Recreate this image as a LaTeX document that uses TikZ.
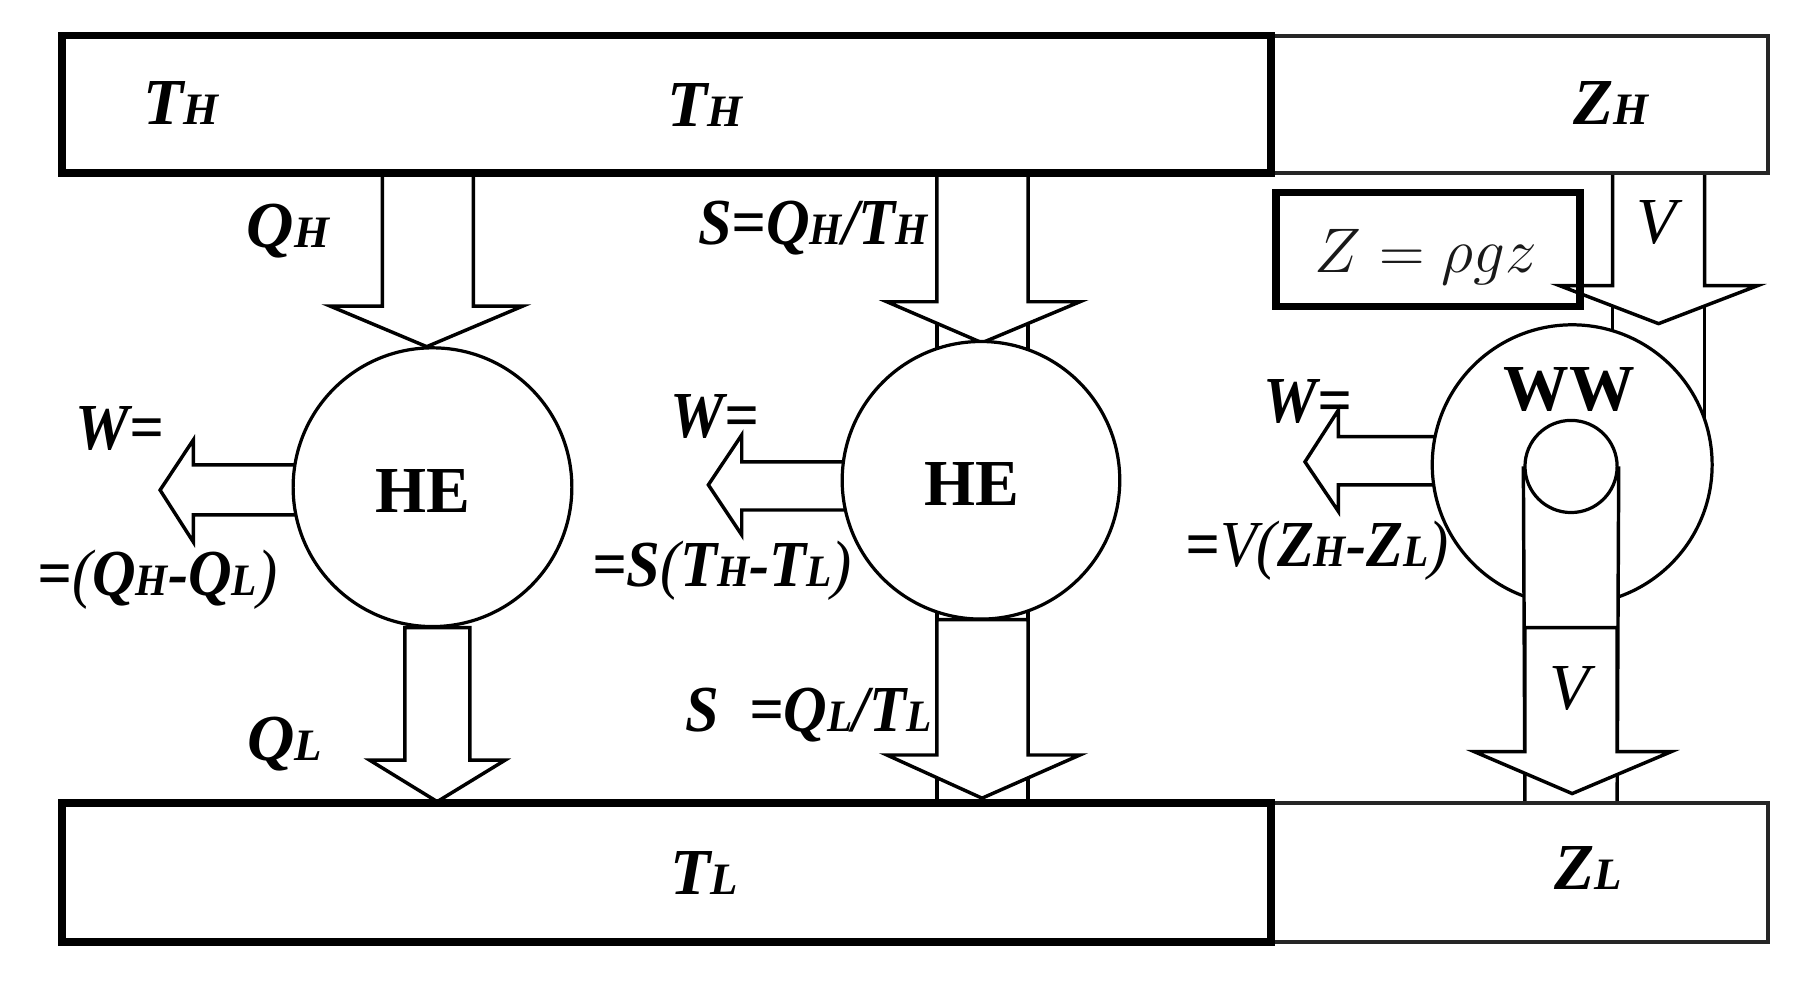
\documentclass[tikz,border=0pt]{standalone}
\usepackage{graphicx}
\usepackage{fontspec}
\setmainfont{Liberation Serif}
\newfontfamily\condfont{Liberation Serif}[FakeStretch=0.92]
\usetikzlibrary{calc}
\newcommand{\sbs}[1]{{\fontsize{19.5pt}{20pt}\selectfont #1}}
\newcommand{\rp}[1]{{\mdseries #1}}
\begin{document}
\begin{tikzpicture}[x=0.5pt,y=-0.5pt,
  thinline/.style={line width=1.5pt},
  thickbox/.style={draw, line width=3.3pt},
  thinbox/.style={draw, line width=1.6pt, black!85},
  barrow/.style={draw, fill=white, line width=1.5pt, line join=miter},
  lbl/.style={inner sep=0pt, font=\fontsize{28.5pt}{30pt}\selectfont\bfseries\itshape},
  clbl/.style={inner sep=0pt, font=\condfont\fontsize{28.5pt}{30pt}\selectfont\bfseries\itshape},
  vlbl/.style={inner sep=0pt, font=\fontsize{28.5pt}{30pt}\selectfont\mdseries\itshape},
  eng/.style={inner sep=0pt, font=\fontsize{28.5pt}{30pt}\selectfont\bfseries},
  engine/.style={circle, draw, fill=white, line width=1.4pt, inner sep=0pt},
]
\useasboundingbox (0,0) rectangle (1568,855);

% ---------- column 1 ----------
\draw[barrow] (332,150) -- (332,265.7) -- (286.5,265.7) -- (370.5,301) -- (454,265.7) -- (411,265.7) -- (411,150);
\draw[barrow] (262,403.7) -- (167.8,403.7) -- (167.8,382) -- (139,425.5) -- (167.8,470.5) -- (167.8,447) -- (262,447);
\draw[barrow] (351.6,545) -- (351.6,660) -- (321,660) -- (379.6,696) -- (438.5,660) -- (408,660) -- (408,545) -- cycle;
\node[engine, minimum size=121pt] (he1) at (375.5,423) {};

% ---------- column 2 ----------
\draw[thinline] (813.4,150) -- (813.4,330) (892.6,150) -- (892.6,330);
\draw[barrow] (813.4,150) -- (813.4,262) -- (770,262) -- (852.6,297.6) -- (937.6,262) -- (892.6,262) -- (892.6,150);
\draw[barrow] (740,401) -- (644,401) -- (644,377.6) -- (615,421) -- (644,464.5) -- (644,442.8) -- (740,442.8);
\draw[thinline] (813.4,525) -- (813.4,697) (892.6,525) -- (892.6,697);
\node[engine, minimum size=120.5pt] (he2) at (851.7,417) {};
\draw[barrow] (813.4,538) -- (813.4,655.5) -- (770,655.5) -- (852.6,693) -- (937.6,655.5) -- (892.6,655.5) -- (892.6,538) -- cycle;

% ---------- column 3 ----------
\draw[thinline] (1400,150) -- (1400,320) (1480,150) -- (1480,390);
\draw[barrow] (1400,150) -- (1400,248) -- (1354,248) -- (1440,281) -- (1526,248) -- (1480,248) -- (1480,150);
\draw[barrow] (1252,379) -- (1162,379) -- (1162,356) -- (1133,401) -- (1162,444) -- (1162,421) -- (1252,421);
\node[engine, minimum size=121.5pt] (ww) at (1365,403.5) {};
\fill[white] (1324,405) rectangle (1404,545);
\node[circle, draw, line width=1.4pt, minimum size=40pt, inner sep=0pt] (hub) at (1364,405) {};
\draw[thinline] (hub.west) -- (1324,697) (hub.east) -- (1404,697);
\draw[barrow] (1324,545) -- (1324,652.6) -- (1280,652.6) -- (1365,689) -- (1451,652.6) -- (1404,652.6) -- (1404,545) -- cycle;

% ---------- reservoirs ----------
\draw[thinbox] (1103.5,31) rectangle (1535,150);
\draw[thickbox] (54,31) rectangle (1103.5,150);
\draw[thinbox] (1103.5,697) rectangle (1535,818);
\draw[thickbox] (54,697) rectangle (1103.5,818);

% ---------- Z box ----------
\node[draw, line width=3.3pt, minimum width=132pt, minimum height=49.5pt, inner sep=0pt] (zbox) at (1240,216.5) {};
\node[inner sep=0pt, anchor=base, text=black!90, font=\fontsize{24.88pt}{27pt}\selectfont] (zeq) at (1238,237) {\scalebox{1.1}{$Z = \rho g z$}};

% ---------- labels ----------
\node[lbl, anchor=base west] (th1) at (124,108.5) {T\sbs{H}};
\node[lbl, anchor=base west] (th2) at (579,110) {T\sbs{H}};
\node[lbl, anchor=base west] (zh) at (1365.5,108.5) {Z\sbs{H}};
\node[lbl, anchor=base west] (tl) at (581.7,777) {T\sbs{L}};
\node[lbl, anchor=base west] (zl) at (1349,772) {Z\sbs{L}};

\node[lbl, anchor=base west] (qh) at (214,215) {Q\sbs{H}};
\node[clbl, anchor=base east] (sh) at (806,212.7) {S=Q\sbs{H}/T\sbs{H}};
\node[lbl, anchor=base west] (ql) at (214.5,660) {Q\sbs{L}};
\node[clbl, anchor=base east] (sl) at (809,635.5) {S\hspace{13pt}=Q\sbs{L}/T\sbs{L}};

\node[clbl, anchor=base west] (w1) at (65.5,390) {W=};
\node[clbl, anchor=base west] (w2) at (581.7,380) {W=};
\node[clbl, anchor=base west] (w3) at (1097,367) {W=};
\node[clbl, anchor=base east] (we1) at (241,517) {=\rp{(}Q\sbs{H}-Q\sbs{L}\rp{)}};
\node[clbl, anchor=base east] (we2) at (740,509.6) {=S\rp{(}T\sbs{H}-T\sbs{L}\rp{)}};
\node[clbl, anchor=base east] (we3) at (1258,492) {=\rp{V(}Z\sbs{H}-Z\sbs{L}\rp{)}};

\node[vlbl, anchor=base west] (v1) at (1420,211) {V};
\node[vlbl, anchor=base west] (v2) at (1345,616) {V};

\node[eng] (he1t) at (367,426.6) {HE};
\node[eng] (he2t) at (844,420.5) {HE};
\node[eng] (wwt) at (1362.5,338) {WW};
\end{tikzpicture}
\end{document}
